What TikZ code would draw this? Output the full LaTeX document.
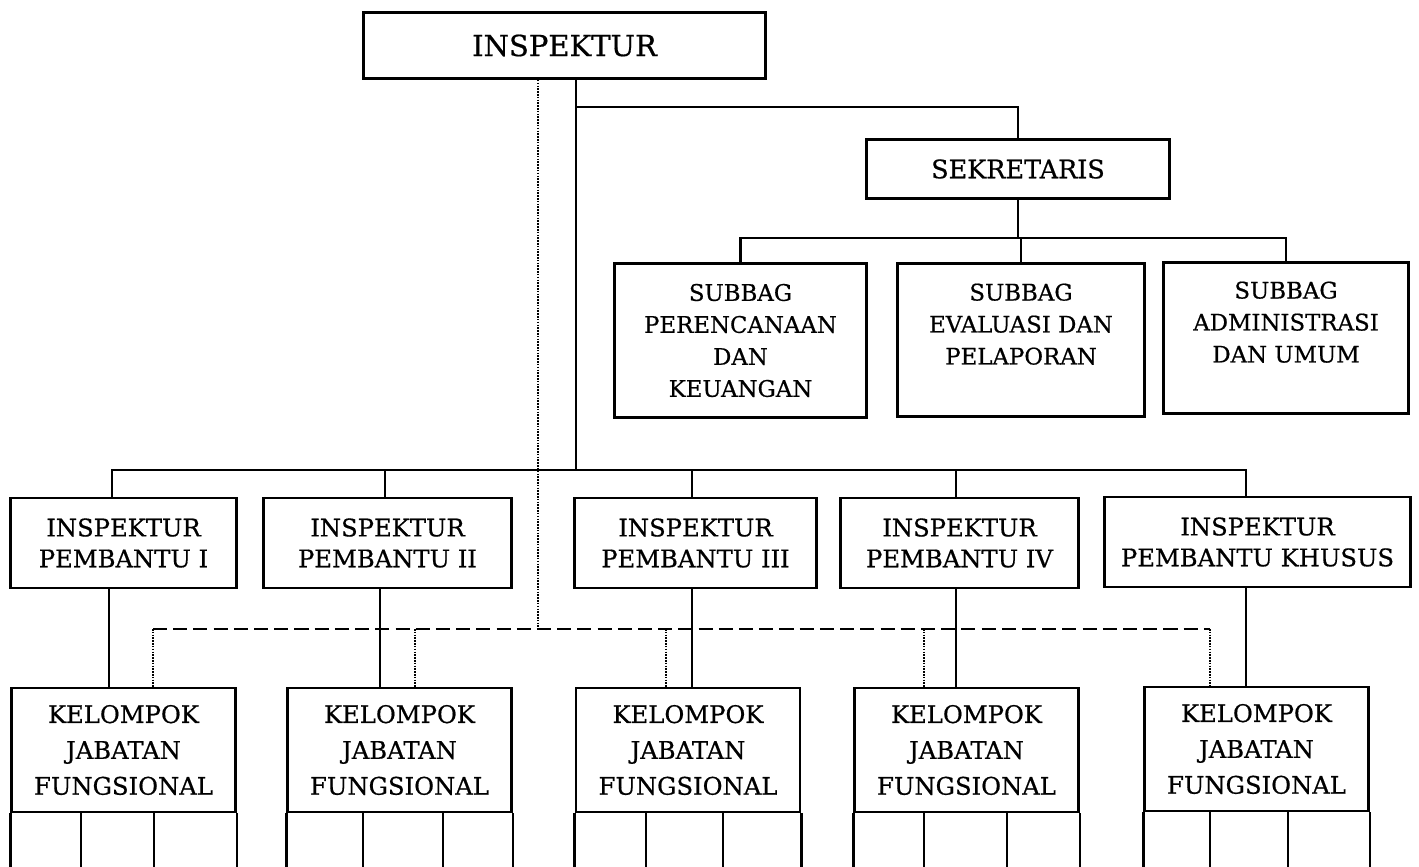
\documentclass[tikz,border=0pt]{standalone}
\usepackage{fontspec}
\setmainfont{DejaVu Serif}[BoldFont=DejaVu Serif, BoldFeatures={FakeBold=0.6}]
\usepackage{tikz}
\usetikzlibrary{calc}

\begin{document}
\begin{tikzpicture}[
  every node/.style={font=\bfseries},
  unit/.style={draw, line width=1.6pt, inner sep=0pt, align=center},
  ipbox/.style={unit, minimum height=1.8cm, font=\fontsize{13.8}{17.6}\bfseries},
  kjfbox/.style={unit, minimum width=4.48cm, minimum height=2.48cm, font=\fontsize{13.8}{20.4}\bfseries},
  subbox/.style={unit, font=\fontsize{13}{18.2}\bfseries},
  conn/.style={line width=1.4pt},
  dashline/.style={line width=1.2pt, dash pattern=on 8pt off 3.5pt},
  dotline/.style={line width=1.4pt, dash pattern=on 0.9pt off 0.7pt}
]
  \useasboundingbox (0,0) rectangle (28.38,-17.32);

  % Top
  \node[unit, minimum width=8.04cm, minimum height=1.32cm, font=\fontsize{16.5}{21}\bfseries] (insp) at (11.29,-0.91) {INSPEKTUR};
  \node[unit, minimum width=6.06cm, minimum height=1.18cm, font=\fontsize{14.5}{19}\bfseries] (sek) at (20.36,-3.38) {SEKRETARIS};

  % Subbag
  \node[subbox, minimum width=5.04cm, minimum height=3.08cm] (sub1) at (14.81,-6.81) {SUBBAG\\PERENCANAAN\\DAN\\KEUANGAN};
  \node[subbox, minimum width=4.94cm, minimum height=3.06cm] (sub2) at (20.42,-6.80) {SUBBAG\\EVALUASI DAN\\PELAPORAN\\\mbox{}};
  \node[subbox, minimum width=4.90cm, minimum height=3.02cm] (sub3) at (25.72,-6.76) {SUBBAG\\ADMINISTRASI\\DAN UMUM\\\mbox{}};

  % Inspektur pembantu
  \node[ipbox, minimum width=4.52cm] (ip1) at (2.47,-10.86) {INSPEKTUR\\PEMBANTU I};
  \node[ipbox, minimum width=4.96cm] (ip2) at (7.75,-10.86) {INSPEKTUR\\PEMBANTU II};
  \node[ipbox, minimum width=4.84cm] (ip3) at (13.91,-10.86) {INSPEKTUR\\PEMBANTU III};
  \node[ipbox, minimum width=4.76cm] (ip4) at (19.19,-10.86) {INSPEKTUR\\PEMBANTU IV};
  \node[ipbox, minimum width=6.12cm] (ip5) at (25.15,-10.84) {INSPEKTUR\\PEMBANTU KHUSUS};

  % Kelompok jabatan fungsional
  \node[kjfbox] (kjf1) at (2.47,-15.00) {KELOMPOK\\JABATAN\\FUNGSIONAL};
  \node[kjfbox] (kjf2) at (7.99,-15.00) {KELOMPOK\\JABATAN\\FUNGSIONAL};
  \node[kjfbox] (kjf3) at (13.76,-15.00) {KELOMPOK\\JABATAN\\FUNGSIONAL};
  \node[kjfbox] (kjf4) at (19.33,-15.00) {KELOMPOK\\JABATAN\\FUNGSIONAL};
  \node[kjfbox] (kjf5) at (25.13,-14.98) {KELOMPOK\\JABATAN\\FUNGSIONAL};

  % Lines of command
  \coordinate (trunk) at (11.52,-9.40);
  \coordinate (fork) at (11.52,-2.14);
  \coordinate (subbus) at (20.36,-4.76);
  \draw[conn] (trunk |- insp.south) -- (trunk);
  \draw[conn] (fork) -| (sek.north);
  \draw[conn] (sek.south) -- (subbus);
  \draw[conn] (sub1.north) |- (sub3.north |- subbus) -- (sub3.north);
  \draw[conn] (sub2.north) -- (sub2.north |- subbus);
  \draw[conn] (ip1.north -| 2.24,0) |- (trunk) -| (ip5.north -| 24.92,0);
  \foreach \i/\x in {2/7.70, 3/13.84, 4/19.12}
    \draw[conn] (ip\i.north -| \x,0) -- (trunk -| \x,0);
  \foreach \i/\x in {1/2.18, 2/7.60, 3/13.84, 4/19.12, 5/24.92}
    \draw[conn] (ip\i.south -| \x,0) -- (kjf\i.north -| \x,0);

  % Lines of coordination
  \coordinate (dtop) at (10.76,-12.58);
  \foreach \i/\x in {1/3.06, 2/8.30, 3/13.32, 4/18.48, 5/24.20}
    \coordinate (d\i) at (\x,-12.58);
  \draw[dashline] (d1) -- (d5);
  \draw[dotline] (dtop |- insp.south) -- (dtop);
  \foreach \i in {1,...,5}
    \draw[dotline] (d\i) -- (d\i |- kjf\i.north);

  % Columns under each group
  \foreach \i/\a/\b in {1/1.62/3.08, 2/7.26/8.86, 3/12.92/14.46, 4/18.48/20.14, 5/24.20/25.76} {
    \draw[line width=1.6pt] (kjf\i.south west) -- ++(0,-1.4);
    \draw[line width=1.6pt] (kjf\i.south east) -- ++(0,-1.4);
    \draw[conn] (kjf\i.south -| \a,0) -- ++(0,-1.4);
    \draw[conn] (kjf\i.south -| \b,0) -- ++(0,-1.4);
  }
\end{tikzpicture}
\end{document}
